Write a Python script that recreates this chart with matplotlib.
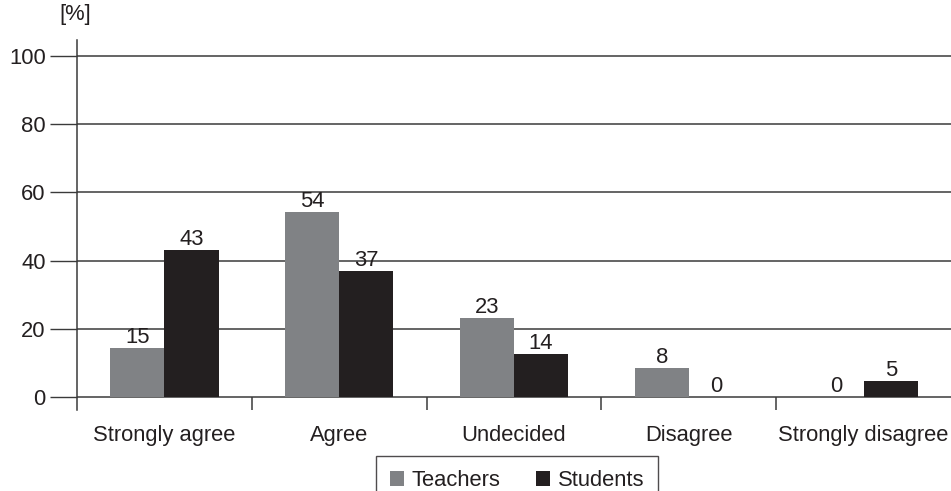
import numpy as np
import matplotlib
matplotlib.use('Agg')
import matplotlib.pyplot as plt

plt.rcParams['font.family'] = ['Liberation Sans', 'DejaVu Sans']

# Données
categories = ['Strongly agree', 'Agree', 'Undecided', 'Disagree', 'Strongly disagree']
teachers = [14.5, 54.3, 23.3, 8.6, 0]
students = [43.2, 37.0, 12.5, 0, 4.7]
teachers_labels = ['15', '54', '23', '8', '0']
students_labels = ['43', '37', '14', '0', '5']
y_ticks = [0, 20, 40, 60, 80, 100]

grey = '#808285'
black = '#231f20'
line_col = '#3a3a3a'
fs = 15.8

fig = plt.figure(figsize=(9.51, 4.91), dpi=100)
ax = fig.add_axes([77 / 951, 1 - 410 / 491, 1 - 77 / 951, (410 - 40) / 491])

x = np.arange(len(categories)) + 0.5
w = 0.31
b1 = ax.bar(x - w / 2, teachers, w, color=grey, linewidth=0, label='Teachers', zorder=3)
b2 = ax.bar(x + w / 2, students, w, color=black, linewidth=0, label='Students', zorder=3)
ax.bar_label(b1, labels=teachers_labels, padding=0, fontsize=fs, color=black)
ax.bar_label(b2, labels=students_labels, padding=0, fontsize=fs, color=black)

ax.set_xlim(0, 5)
ax.set_ylim(-3.8, 104.7)
ax.set_yticks(y_ticks)
ax.set_yticklabels([str(v) for v in y_ticks], fontsize=fs, color=black)
ax.tick_params(axis='y', length=19.5, width=1, color=line_col, pad=3)
for v in y_ticks:
    ax.axhline(v, color=line_col, linewidth=1.1, zorder=1)

ax.set_xticks(x)
ax.set_xticklabels(categories, fontsize=fs, color=black)
ax.tick_params(axis='x', length=0, pad=11)
ax.vlines([1, 2, 3, 4], -3.8, 0, color=line_col, linewidth=1.1, clip_on=False)

for s in ['top', 'right', 'bottom']:
    ax.spines[s].set_visible(False)
ax.spines['left'].set_color(line_col)
ax.spines['left'].set_linewidth(1.1)

ax.text(-0.02, 1.04, '[%]', transform=ax.transAxes, fontsize=fs, color=black,
        ha='left', va='bottom')

leg = fig.legend(handles=[b1, b2], labels=['Teachers', 'Students'],
                 loc='upper center', bbox_to_anchor=(517 / 951, 1 - 456 / 491),
                 ncol=2, frameon=True, fancybox=False, fontsize=fs,
                 handlelength=0.65, handleheight=0.65, handletextpad=0.35,
                 columnspacing=1.6, borderpad=0.65, borderaxespad=0)
leg.get_frame().set_edgecolor(black)
leg.get_frame().set_linewidth(1.0)
for t in leg.get_texts():
    t.set_color(black)

fig.savefig('out.png', dpi=100)
